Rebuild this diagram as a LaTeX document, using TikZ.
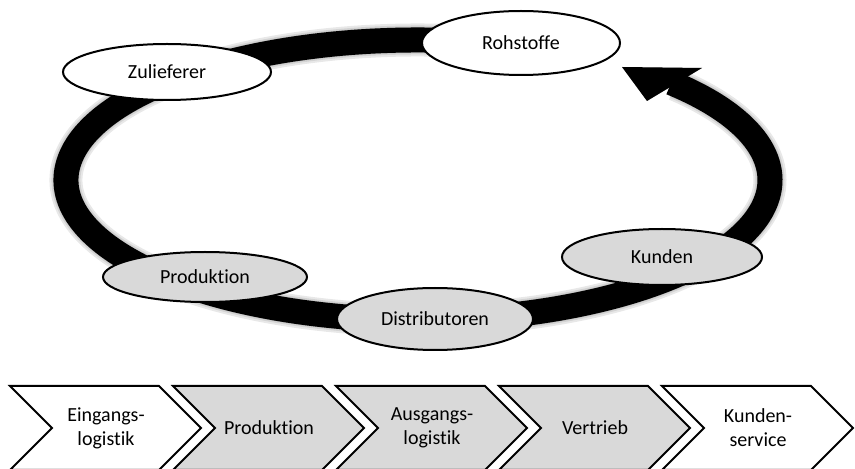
\documentclass[tikz,border=0pt]{standalone}
\usepackage{fontspec}
\setmainfont{Carlito}[Ligatures=NoCommon]
\usetikzlibrary{shapes.geometric}
\definecolor{boxgray}{RGB}{217,217,217}

\begin{document}
\begin{tikzpicture}[x=1pt,y=1pt,
  station/.style={ellipse, draw=black, line width=2pt, inner sep=0pt,
                  font=\fontsize{20}{24}\selectfont},
  lightst/.style={station, fill=white},
  grayst/.style={station, fill=boxgray},
  stage/.style={draw=black, line width=2pt, line join=miter},
  stagetext/.style={font=\fontsize{20}{24}\selectfont, align=center},
  ring/.style={line width=25pt, line cap=butt},
]
\useasboundingbox (0,0) rectangle (855,469);

% centre of the supply-chain loop
\coordinate (hub) at (418,289);
% arrow head of the loop
\coordinate (tip)   at (622,402);
\coordinate (headA) at (702,401);
\coordinate (headB) at (647,368);

% soft drop shadow of the loop
\begin{scope}[shift={(3,-4)}]
  \foreach \w in {33,29,26} {
    \draw[black, opacity=0.09, line width=\w pt]
      (hub) ++(80:352 and 140) arc[start angle=80, end angle=403, x radius=352, y radius=140];
  }
  \fill[black, opacity=0.2] (tip) -- (headA) -- (headB) -- cycle;
\end{scope}

% the loop itself
\draw[ring] (hub) ++(80:352 and 140) arc[start angle=80, end angle=404, x radius=352, y radius=140];
\fill[black] (tip) -- (headA) -- (headB) -- cycle;

% stations on the loop
\node[lightst, minimum width=198pt, minimum height=64pt] (rohstoffe)   at (521,426) {Rohstoffe};
\node[lightst, minimum width=208pt, minimum height=56pt] (zulieferer)  at (167,397) {Zulieferer};
\node[grayst,  minimum width=204pt, minimum height=50pt] (produktion)  at (205,192) {Produktion};
\node[grayst,  minimum width=196pt, minimum height=62pt] (distrib)     at (435,150) {Distributoren};
\node[grayst,  minimum width=200pt, minimum height=56pt] (kunden)      at (662,212) {Kunden};

% value chain stages
\foreach \i/\fillc/\txt/\nm in {0/white/{Eingangs-\\logistik}/eingang,
                                1/boxgray/{Produktion}/prod,
                                2/boxgray/{Ausgangs-\\logistik}/ausgang,
                                3/boxgray/{Vertrieb}/vertrieb,
                                4/white/{Kunden-\\service}/service} {
  \pgfmathsetmacro{\L}{10+163*\i}
  \draw[stage, fill=\fillc] (\L,83) -- ++(149,0) -- ++(42,-42) -- ++(-42,-42)
        -- ++(-149,0) -- ++(42,42) -- cycle;
  \node[stagetext] (\nm) at (\L+96,41) {\txt};
}
\end{tikzpicture}
\end{document}
